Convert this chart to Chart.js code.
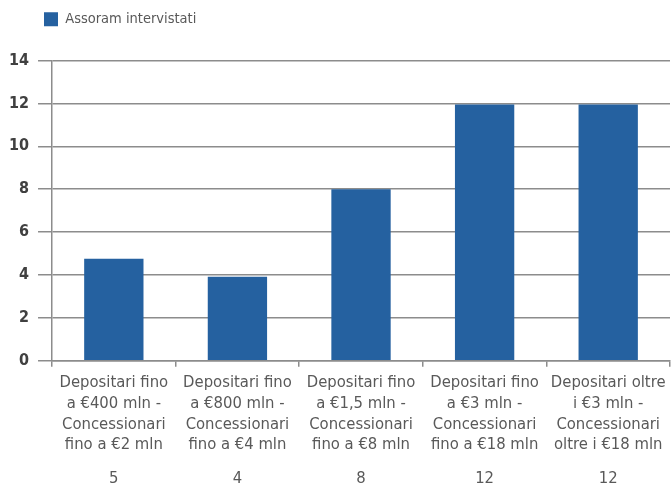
<!DOCTYPE html>
<html>
<head>
<meta charset="utf-8">
<script src="https://cdn.jsdelivr.net/npm/chart.js@4/dist/chart.umd.min.js"></script>
<style>
html,body{margin:0;padding:0;background:#fff;}
#wrap{width:672px;height:485px;position:relative;}
</style>
</head>
<body>
<div id="wrap"><canvas id="c" width="672" height="485"></canvas></div>
<script>
const categories = [
  ["Depositari fino", "a €400 mln -", "Concessionari", "fino a €2 mln"],
  ["Depositari fino", "a €800 mln -", "Concessionari", "fino a €4 mln"],
  ["Depositari fino", "a €1,5 mln -", "Concessionari", "fino a €8 mln"],
  ["Depositari fino", "a €3 mln -", "Concessionari", "fino a €18 mln"],
  ["Depositari oltre", "i €3 mln -", "Concessionari", "oltre i €18 mln"]
];
const seriesName = "Assoram intervistati";
const seriesValues = [4.76, 3.92, 8, 11.95, 11.95];
const tableRow = ["5", "4", "8", "12", "12"];
const yTicks = [0, 2, 4, 6, 8, 10, 12, 14];

const FONT = "'Liberation Sans Narrow', 'DejaVu Sans Condensed', 'Roboto', sans-serif";
const GRID = '#8c8c8c';

const legendShift = {
  id: 'legendShift',
  afterLayout(chart) {
    if (chart.legend) { chart.legend.left += 34; chart.legend.right += 34; }
  }
};

new Chart(document.getElementById('c'), {
  type: 'bar',
  data: {
    labels: categories,
    datasets: [{
      label: seriesName,
      data: seriesValues,
      backgroundColor: '#2561a0',
      borderWidth: 0,
      categoryPercentage: 1,
      barPercentage: 0.48,
      xAxisID: 'x'
    }]
  },
  plugins: [legendShift],
  options: {
    responsive: false,
    animation: false,
    devicePixelRatio: 1,
    layout: { padding: { left: 0, right: 2, top: 2, bottom: -12 } },
    plugins: {
      tooltip: { enabled: false },
      legend: {
        display: true,
        position: 'top',
        align: 'start',
        labels: {
          boxWidth: 14,
          boxHeight: 14,
          padding: 10,
          color: '#595959',
          font: { family: FONT, size: 14.5 }
        }
      }
    },
    scales: {
      xtop: {
        type: 'category',
        position: 'top',
        labels: [''],
        grid: { display: false, drawTicks: false },
        border: { display: false },
        ticks: { display: false },
        afterFit: (s) => { s.height = 24; }
      },
      x: {
        type: 'category',
        position: 'bottom',
        grid: {
          display: true,
          drawOnChartArea: false,
          drawTicks: true,
          tickLength: 6,
          offset: true,
          color: GRID,
          lineWidth: 1.5
        },
        border: { display: true, color: GRID, width: 1.5 },
        ticks: {
          color: '#595959',
          font: { family: FONT, size: 16.5, lineHeight: 1.25 },
          padding: 6,
          maxRotation: 0,
          autoSkip: false
        }
      },
      x2: {
        type: 'category',
        position: 'bottom',
        labels: tableRow,
        offset: true,
        grid: { display: false, drawTicks: false },
        border: { display: false },
        ticks: {
          color: '#595959',
          font: { family: FONT, size: 16.5 },
          padding: 8,
          maxRotation: 0,
          autoSkip: false
        }
      },
      y: {
        min: 0,
        max: 14,
        afterBuildTicks: (axis) => { axis.ticks = yTicks.map(v => ({ value: v })); },
        grid: {
          color: GRID,
          lineWidth: 1.5,
          drawTicks: true,
          tickLength: 14
        },
        border: { display: true, color: GRID, width: 1.5 },
        ticks: {
          color: '#404040',
          font: { family: FONT, size: 16, weight: 'bold' },
          padding: 9
        }
      }
    }
  }
});
</script>
</body>
</html>
